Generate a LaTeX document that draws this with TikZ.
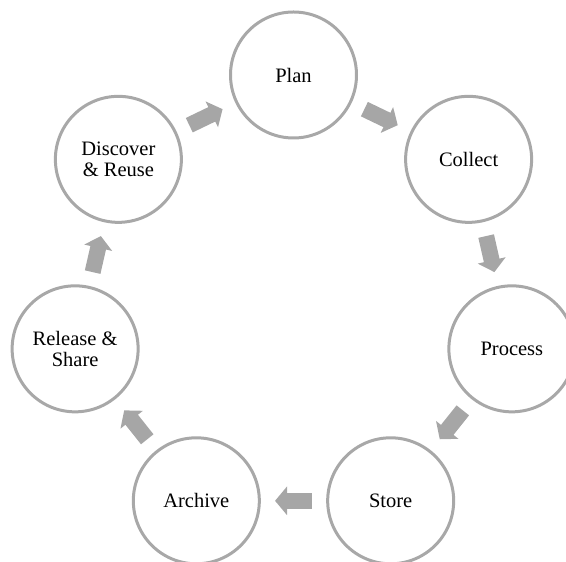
\documentclass[tikz,border=0pt]{standalone}
\usepackage{fontspec}
\setmainfont{Liberation Serif}
\usepackage{tikz}
\usetikzlibrary{arrows.meta,calc}

\definecolor{ringgray}{RGB}{168,168,168}
\definecolor{arrowgray}{RGB}{166,166,166}

\begin{document}
\begin{tikzpicture}[x=1pt,y=1pt,
    stage/.style={circle,draw=ringgray,line width=3pt,minimum size=126pt,
        inner sep=0pt,align=center,font=\fontsize{20.5}{20.5}\selectfont},
    flow/.style={draw=arrowgray,line width=16pt,
        -{Triangle[width=28pt,length=12pt]},
        shorten <=78.7pt,shorten >=78.7pt}]

\useasboundingbox (0,0) rectangle (566,562);

\coordinate (O) at (293.5,263);

\foreach \name/\txt [count=\k from 0] in {plan/Plan, collect/Collect,
    process/Process, store/Store, archive/Archive,
    release/{Release \&\\Share}, discover/{Discover\\\& Reuse}}
    \node [stage] (\name) at ($(O)+({90-\k*360/7}:224)$) {\txt};

\foreach \a/\b in {plan/collect, collect/process, process/store,
    store/archive, archive/release, release/discover, discover/plan}
    \draw [flow] (\a.center) -- (\b.center);

\end{tikzpicture}
\end{document}
